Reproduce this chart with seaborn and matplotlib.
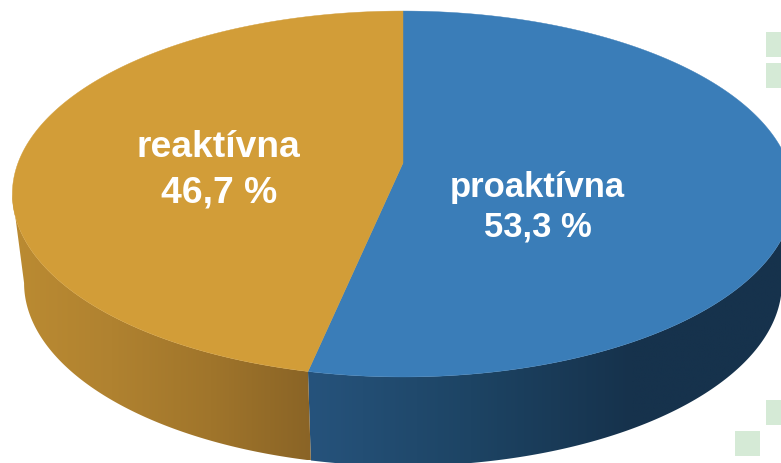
import numpy as np
import matplotlib
matplotlib.use("Agg")
import matplotlib.pyplot as plt
import seaborn as sns

# Pie data
labels = ["proaktívna", "reaktívna"]
shares = [53.3, 46.7]
share_text = ["53,3 %", "46,7 %"]
top_colors = ["#3a7db8", "#d29d38"]
wall_colors = [["#26537c", "#1d4464", "#16324c", "#16324c"],
               ["#bb8b32", "#b08230", "#a0752b", "#8a6426"]]

sns.set_theme(style="white")
plt.rcParams['font.family'] = ['Liberation Sans', 'DejaVu Sans']

K = 0.1694


# Perspective view of the round pie, angle is clockwise from the top
def project(theta, drop=0.0, scale=1.0):
    u, v = np.sin(theta), np.cos(theta)
    w = 1 + K * v
    return 403 + 385 * scale * u / w, (163 - 150.1 * v) / w + drop


fig, ax = plt.subplots(figsize=(7.81, 4.63), dpi=100)
fig.subplots_adjust(0, 0, 1, 1)

# Light green squares of the slide background
for x, y in [(766, 32), (766, 63), (766, 400), (735, 431)]:
    ax.add_patch(plt.Rectangle((x, y), 25, 25, color="#d5ead6", lw=0))

edges = np.concatenate([[0], np.cumsum(shares) / np.sum(shares) * 2 * np.pi])

# Side wall: horizontal gradient clipped to the wall outline
side = np.arccos(-K)  # where the outline turns
for i in range(len(shares)):
    start = max(edges[i], side)
    end = min(edges[i + 1], 2 * np.pi - side)
    t = np.linspace(start, end, 300)
    x1, y1 = project(t)
    x2, y2 = project(t, 89, 0.97)
    xs = np.r_[x1, x2[::-1]]
    ys = np.r_[y1, y2[::-1]]
    grad = np.array(sns.blend_palette(wall_colors[i], 256))[:, :3][np.newaxis, :, :]
    im = ax.imshow(grad, extent=(xs.min(), xs.max(), ys.max(), ys.min()), aspect='auto',
                   interpolation='bilinear', zorder=2)
    patch = plt.Polygon(np.c_[xs, ys], closed=True, transform=ax.transData, fc='none', lw=0)
    ax.add_patch(patch)
    im.set_clip_path(patch)

# Top face
for i in range(len(shares)):
    t = np.linspace(edges[i], edges[i + 1], 300)
    x, y = project(t)
    ax.fill(np.r_[403, x], np.r_[163, y], color=top_colors[i], lw=0.3, zorder=3)

# Labels
text_pos = [(537, 197, 236, 24.9), (218, 157, 203, 26.8)]
for i, (x, y1, y2, size) in enumerate(text_pos):
    ax.text(x, y1, labels[i], color="white", fontsize=size, fontweight='bold',
            ha='center', va='baseline', zorder=4)
    ax.text(x + 1, y2, share_text[i], color="white", fontsize=size, fontweight='bold',
            ha='center', va='baseline', zorder=4)

ax.set_xlim(0, 781)
ax.set_ylim(463, 0)
ax.axis('off')

plt.savefig('out.png', dpi=100)
